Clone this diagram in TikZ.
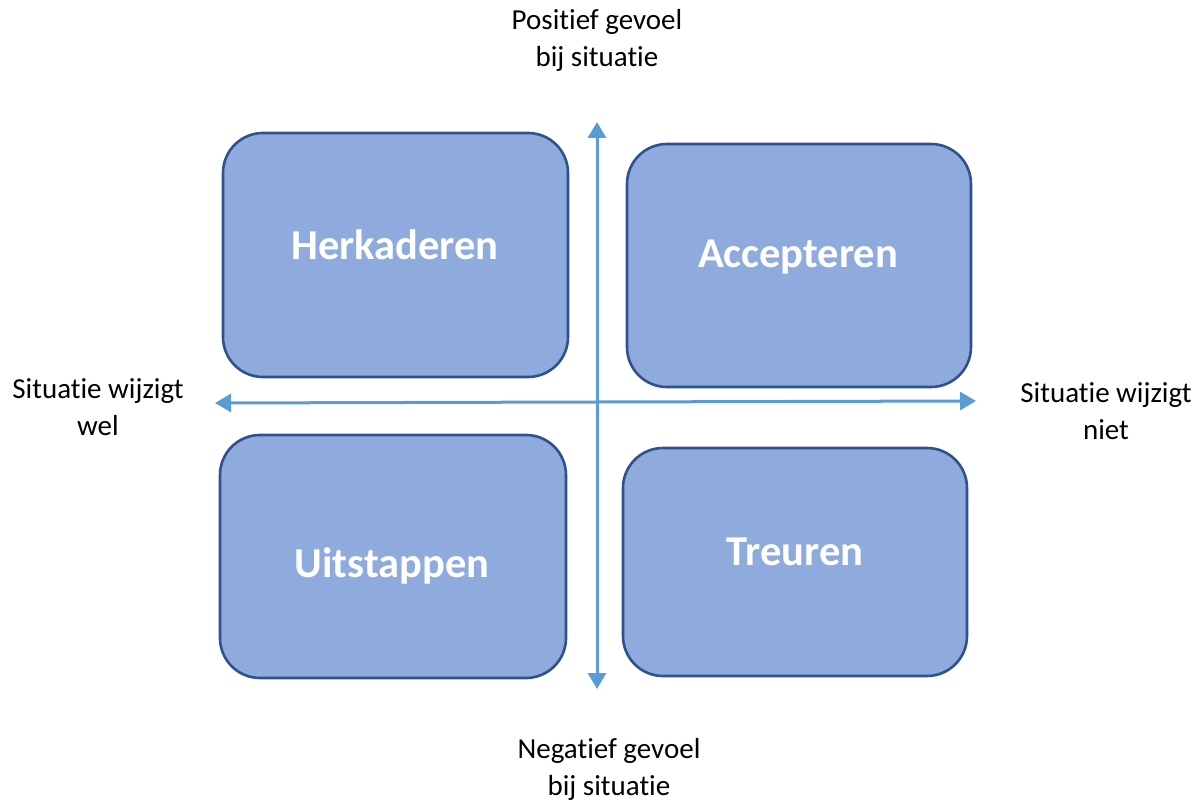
\documentclass[tikz,border=0pt]{standalone}
\usepackage{fontspec}
\setmainfont{Carlito}[Ligatures=NoCommon]
\usetikzlibrary{arrows.meta}
\definecolor{boxfill}{HTML}{8FAADC}
\definecolor{boxdraw}{HTML}{2F528F}
\definecolor{axis}{HTML}{5B9BD5}
\tikzset{
  quad/.style={draw=boxdraw, fill=boxfill, line width=2.6pt, rounded corners=40pt, inner sep=0pt},
  quadtext/.style={font=\fontsize{42.5}{48}\selectfont\bfseries, text=white},
  axisline/.style={draw=axis, line width=3pt, -{Triangle[length=16pt,width=18pt]}},
  lbl/.style={align=center, font=\fontsize{29}{37}\selectfont, text=black, inner sep=0pt}
}
\begin{document}
\begin{tikzpicture}[x=1pt,y=-1pt]
\useasboundingbox (0,0) rectangle (1203,802);
% boxes
\node[quad, minimum width=345pt, minimum height=244pt] (herk) at (395.5,255) {};
\node[quadtext] (herkt) at (395,245) {Herkaderen};
\node[quad, minimum width=344pt, minimum height=243pt] (acc) at (799,265.5) {};
\node[quadtext] (acct) at (798,257) {Accepteren};
\node[quad, minimum width=346pt, minimum height=243pt] (uit) at (393,556.5) {};
\node[quadtext] (uitt) at (392,566) {Uitstappen};
\node[quad, minimum width=344pt, minimum height=228pt] (treu) at (795,562) {};
\node[quadtext] (treut) at (795,552) {Treuren};
% axes
\coordinate (top) at (597,122);
\coordinate (bot) at (597,689);
\coordinate (lft) at (215,403);
\coordinate (rgt) at (976,401);
\coordinate (vc) at (597,402);
\draw[axisline] (vc) -- (top);
\draw[axisline] (vc) -- (bot);
\draw[axisline] (vc) -- (lft);
\draw[axisline] (vc) -- (rgt);
% labels
\node[lbl] (ltop) at (597,40) {Positief gevoel\\bij situatie};
\node[lbl] (lbot) at (609,769) {Negatief gevoel\\bij situatie};
\node[lbl] (llft) at (98,407) {Situatie wijzigt\\wel};
\node[lbl] (lrgt) at (1106,411) {Situatie wijzigt\\niet};
\end{tikzpicture}
\end{document}
